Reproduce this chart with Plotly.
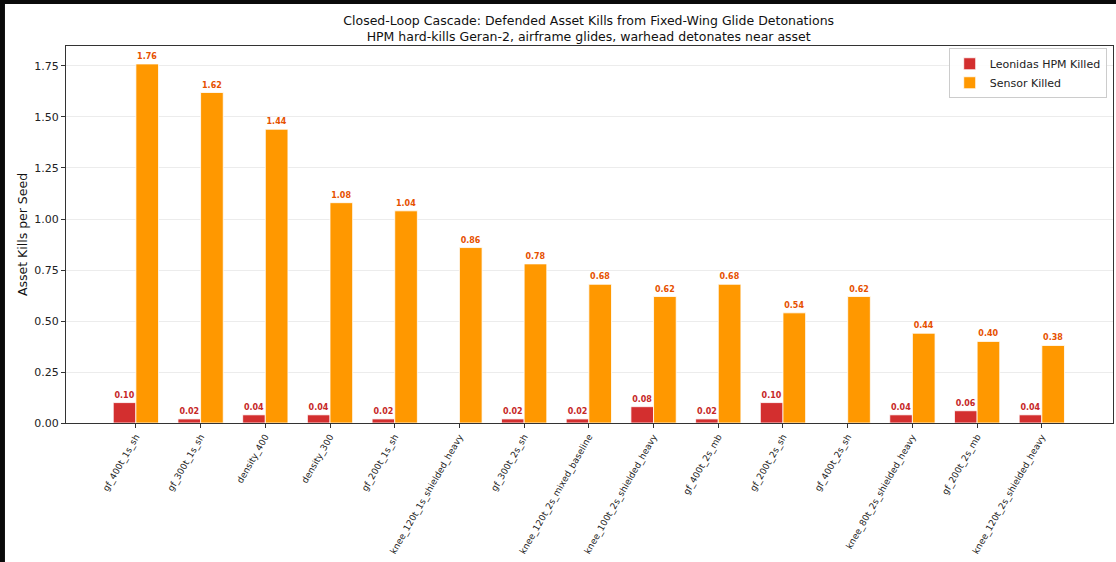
import plotly.graph_objects as go

# Scenario names (x categories)
scenarios = [
    "gf_400t_1s_sh", "gf_300t_1s_sh", "density_400", "density_300",
    "gf_200t_1s_sh", "knee_120t_1s_shielded_heavy", "gf_300t_2s_sh",
    "knee_120t_2s_mixed_baseline", "knee_100t_2s_shielded_heavy",
    "gf_400t_2s_mb", "gf_200t_2s_sh", "gf_400t_2s_sh",
    "knee_80t_2s_shielded_heavy", "gf_200t_2s_mb", "knee_120t_2s_shielded_heavy",
]

# Mean defended-asset kills per seed, by kill mechanism
hpm_killed = [0.10, 0.02, 0.04, 0.04, 0.02, 0.00, 0.02, 0.02, 0.08, 0.02, 0.10, 0.00, 0.04, 0.06, 0.04]
sensor_killed = [1.76, 1.62, 1.44, 1.08, 1.04, 0.86, 0.78, 0.68, 0.62, 0.68, 0.54, 0.62, 0.44, 0.40, 0.38]

y_ticks = [0.0, 0.25, 0.5, 0.75, 1.0, 1.25, 1.5, 1.75]

FONT = "DejaVu Sans"


def value_labels(vals):
    return [f"<b>{v:.2f}</b>" if v > 0 else "" for v in vals]


fig = go.Figure()
fig.add_trace(go.Bar(
    name="Leonidas HPM Killed", x=scenarios, y=hpm_killed,
    marker=dict(color="#d32f2f", line=dict(color="white", width=0.8)),
    text=value_labels(hpm_killed), textposition="outside",
    textfont=dict(size=8, color="#c62828", family=FONT),
    cliponaxis=False,
))
fig.add_trace(go.Bar(
    name="Sensor Killed", x=scenarios, y=sensor_killed,
    marker=dict(color="#ff9800", line=dict(color="white", width=0.8)),
    text=value_labels(sensor_killed), textposition="outside",
    textfont=dict(size=8, color="#e65100", family=FONT),
    cliponaxis=False,
))

# Figure frame: dark edge strip on the left and top
fig.add_shape(type="rect", xref="paper", yref="paper",
              x0=-0.0583, x1=1.01, y0=-0.40, y1=1.1114,
              fillcolor="white", line=dict(width=0), layer="below")

fig.update_layout(
    width=1116, height=562,
    margin=dict(l=66, r=3, t=46, b=139),
    paper_bgcolor="#0a0a0a", plot_bgcolor="white",
    font=dict(family=FONT, color="#1a1a1a"),
    barmode="group", bargap=0.3, bargroupgap=0.0,
    title=dict(
        text="Closed-Loop Cascade: Defended Asset Kills from Fixed-Wing Glide Detonations"
             "<br>HPM hard-kills Geran-2, airframe glides, warhead detonates near asset",
        x=0.5275, xanchor="center", yref="container", y=0.956, yanchor="middle",
        font=dict(size=12.5, family=FONT, color="#111"),
    ),
    legend=dict(
        x=0.994, y=0.994, xanchor="right", yanchor="top",
        bgcolor="rgba(255,255,255,0.9)", bordercolor="#cccccc", borderwidth=1,
        font=dict(size=11, family=FONT, color="#222"),
        tracegroupgap=0,
    ),
    showlegend=True,
)

fig.update_xaxes(
    range=[-1.08, 15.1],
    tickangle=-60, tickfont=dict(size=9, family=FONT, color="#222"),
    ticks="outside", ticklen=4, tickcolor="#333",
    showline=True, linecolor="#333", linewidth=1, mirror=True,
    showgrid=False,
)
fig.update_yaxes(
    range=[0, 1.848], tickvals=y_ticks, tickformat=".2f",
    tickfont=dict(size=11, family=FONT, color="#222"),
    ticks="outside", ticklen=4, tickcolor="#333",
    showline=True, linecolor="#333", linewidth=1, mirror=True,
    showgrid=True, gridcolor="#ececec", gridwidth=1, zeroline=False,
    title=dict(text="Asset Kills per Seed", font=dict(size=12.5, family=FONT, color="#111"), standoff=3),
)

fig.write_html("out.html")
